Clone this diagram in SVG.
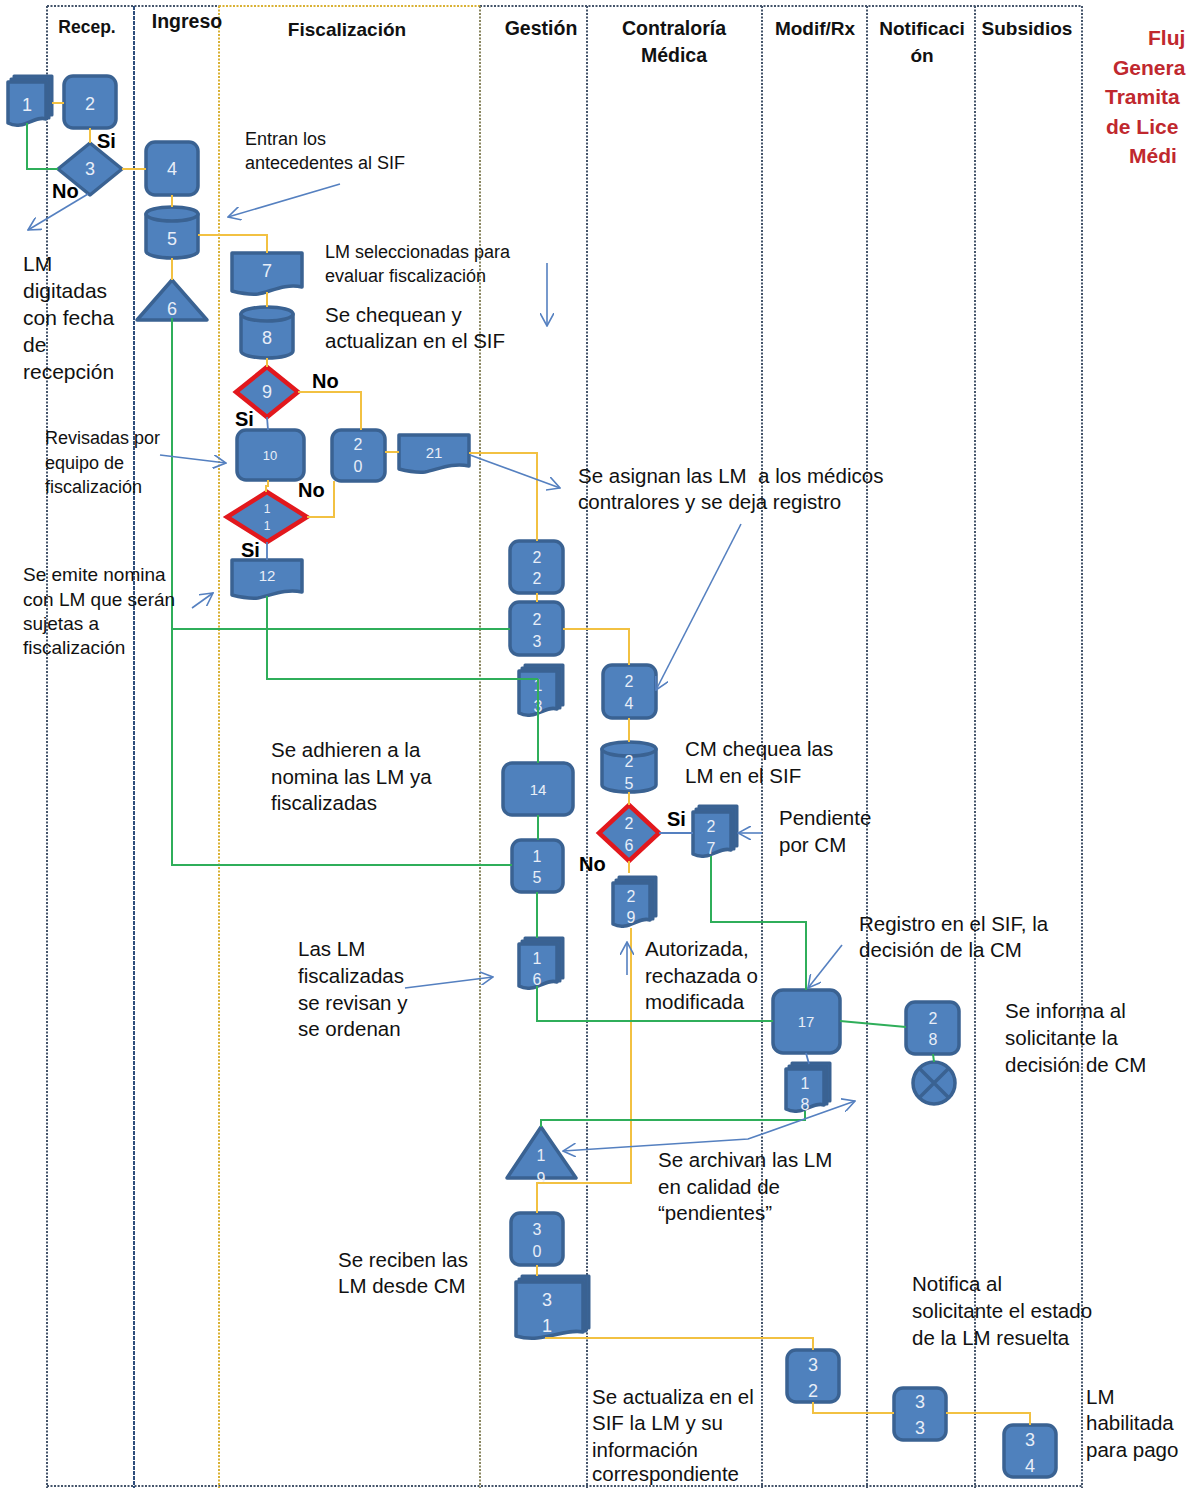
<svg xmlns="http://www.w3.org/2000/svg" width="1187" height="1488" viewBox="0 0 1187 1488">
<defs>
<style>
.n{fill:#4f81bd;stroke:#3a6292;stroke-width:3.5;stroke-linejoin:round}
.bk{fill:#3d6aa3;stroke:#3a6292;stroke-width:3;stroke-linejoin:round}
.rd{fill:#4f81bd;stroke:#e2181d;stroke-width:4.5;stroke-linejoin:miter}
.t{font-family:"Liberation Sans",Arial,sans-serif;fill:#e8eef8;text-anchor:middle}
.c{font-family:"Liberation Sans",Arial,sans-serif;fill:#111}
.h{font-family:"Liberation Sans",Arial,sans-serif;font-weight:bold;fill:#111;text-anchor:middle}
.lb{font-family:"Liberation Sans",Arial,sans-serif;font-weight:bold;fill:#000;font-size:20px}
.ti{font-family:"Liberation Sans",Arial,sans-serif;font-weight:bold;fill:#c0282e;font-size:21px}
.y{stroke:#f2c142;stroke-width:2;fill:none}
.g{stroke:#2fae5a;stroke-width:2;fill:none}
.b{stroke:#5580c0;stroke-width:1.8;fill:none}
.ar{stroke:#5580c0;stroke-width:1.6;fill:none;marker-end:url(#arr)}
.lb1{stroke:#44546a;stroke-width:2;stroke-dasharray:2 1.5;fill:none}
.lb2{stroke:#2d4d7c;stroke-width:2;stroke-dasharray:4 1;fill:none}
.ly{stroke:#d9b134;stroke-width:2;stroke-dasharray:2 1.5;fill:none}
.lo{stroke:#8a8660;stroke-width:2;stroke-dasharray:2 1.5;fill:none}
</style>
<marker id="arr" viewBox="0 0 14 14" refX="13" refY="7" markerWidth="14" markerHeight="14" markerUnits="userSpaceOnUse" orient="auto-start-reverse">
<path d="M0,0 L13,7 L0,14" fill="none" stroke="#5580c0" stroke-width="1.6"/>
</marker>
</defs>
<rect width="1187" height="1488" fill="#fff"/>

<g id="lanes">
<path class="lb1" d="M47,6 H219"/>
<path class="ly" d="M219,6 H480"/>
<path class="lb1" d="M480,6 H1082"/>
<path class="lb1" d="M47,1486 H1082"/>
<path class="lb1" d="M47,6 V1488"/>
<path class="lb2" d="M134,6 V1488"/>
<path class="ly" d="M219,6 V1488"/>
<path class="lo" d="M480,6 V1488"/>
<path class="lb1" d="M587,6 V1488"/>
<path class="lb1" d="M762,6 V1488"/>
<path class="lb1" d="M867,6 V1488"/>
<path class="lb1" d="M975,6 V1488"/>
<path class="lb1" d="M1082,6 V1488"/>
<text class="h" x="87" y="33" font-size="17.5">Recep.</text>
<text class="h" x="187" y="28" font-size="19.5">Ingreso</text>
<text class="h" x="347" y="36" font-size="19">Fiscalización</text>
<text class="h" x="541" y="35" font-size="19.5">Gestión</text>
<text class="h" x="674" y="35" font-size="19.5">Contraloría</text>
<text class="h" x="674" y="62" font-size="19.5">Médica</text>
<text class="h" x="815" y="35" font-size="19">Modif/Rx</text>
<text class="h" x="922" y="35" font-size="19">Notificaci</text>
<text class="h" x="922" y="62" font-size="19">ón</text>
<text class="h" x="1027" y="35" font-size="19">Subsidios</text>
</g>

<g id="title">
<text class="ti" x="1148" y="45">Fluj</text>
<text class="ti" x="1113" y="75">Genera</text>
<text class="ti" x="1105" y="104">Tramita</text>
<text class="ti" x="1106" y="134">de Lice</text>
<text class="ti" x="1129" y="163">Médi</text>
</g>

<g id="n1"><rect class="bk" x="14" y="76" width="38" height="39"/><rect class="bk" x="11" y="79" width="38" height="39"/><path class="n" d="M8,82 H46 V119 C34.6,115 23.2,131 8,123 Z"/><text class="t" x="27" y="111" font-size="18">1</text></g>
<g id="n2"><rect class="n" x="64" y="76" width="52" height="52" rx="9"/><text class="t" x="90" y="110" font-size="18">2</text></g>
<g id="n3"><polygon class="n" points="90,143 122,169 90,195 58,169"/><text class="t" x="90" y="175" font-size="18">3</text></g>
<g id="n4"><rect class="n" x="146" y="142" width="52" height="53" rx="9"/><text class="t" x="172" y="175" font-size="18">4</text></g>
<g id="n5"><path class="n" d="M146,214 V251 A26,7 0 0 0 198,251 V214 Z"/><ellipse class="n" cx="172" cy="214" rx="26" ry="7"/><text class="t" x="172" y="245" font-size="18">5</text></g>
<g id="n6"><polygon class="n" points="172,280 207,320 137,320"/><text class="t" x="172" y="315" font-size="18">6</text></g>
<g id="n7"><path class="n" d="M232,253 H302 V287 C285,283 270,292 258,294 C248,295 240,293 232,291 Z"/><text class="t" x="267" y="277" font-size="18">7</text></g>
<g id="n8"><path class="n" d="M241,314 V351 A26,7 0 0 0 293,351 V314 Z"/><ellipse class="n" cx="267" cy="314" rx="26" ry="7"/><text class="t" x="267" y="344" font-size="18">8</text></g>
<g id="n9"><polygon class="rd" points="267,367 298,392 267,417 236,392"/><text class="t" x="267" y="398" font-size="18">9</text></g>
<g id="n10"><rect class="n" x="237" y="430" width="67" height="50" rx="9"/><text class="t" x="270" y="460" font-size="13">10</text></g>
<g id="n11"><polygon class="rd" points="267,492 307,517 267,542 227,517"/><text class="t" x="267" y="513" font-size="12">1</text><text class="t" x="267" y="530" font-size="12">1</text></g>
<g id="n12"><path class="n" d="M232,560 H302 V592 C285,588 270,596 258,598 C248,599 240,597 232,595 Z"/><text class="t" x="267" y="581" font-size="15">12</text></g>
<g id="n20"><rect class="n" x="332" y="430" width="53" height="51" rx="9"/><text class="t" x="358" y="450" font-size="16">2</text><text class="t" x="358" y="472" font-size="16">0</text></g>
<g id="n21"><path class="n" d="M399,435 H469 V466 C452,462 437,470 425,472 C415,473 407,471 399,469 Z"/><text class="t" x="434" y="458" font-size="15">21</text></g>
<g id="n22"><rect class="n" x="510" y="541" width="53" height="52" rx="9"/><text class="t" x="537" y="563" font-size="16">2</text><text class="t" x="537" y="584" font-size="16">2</text></g>
<g id="n23"><rect class="n" x="510" y="602" width="53" height="53" rx="9"/><text class="t" x="537" y="625" font-size="16">2</text><text class="t" x="537" y="647" font-size="16">3</text></g>
<g id="n13"><rect class="bk" x="525" y="665" width="38" height="40"/><rect class="bk" x="522" y="668" width="38" height="40"/><path class="n" d="M519,671 H557 V709 C545.6,705 534.2,721 519,713 Z"/><text class="t" x="538" y="691" font-size="16">1</text><text class="t" x="538" y="712" font-size="16">3</text></g>
<g id="n24"><rect class="n" x="603" y="665" width="53" height="53" rx="9"/><text class="t" x="629" y="687" font-size="16">2</text><text class="t" x="629" y="709" font-size="16">4</text></g>
<g id="n14"><rect class="n" x="503" y="763" width="70" height="52" rx="9"/><text class="t" x="538" y="795" font-size="15">14</text></g>
<g id="n25"><path class="n" d="M602,749 V785 A27,7 0 0 0 656,785 V749 Z"/><ellipse class="n" cx="629" cy="749" rx="27" ry="7"/><text class="t" x="629" y="767" font-size="16">2</text><text class="t" x="629" y="789" font-size="16">5</text></g>
<g id="n26"><polygon class="rd" points="629,805 659,833 629,861 599,833"/><text class="t" x="629" y="829" font-size="16">2</text><text class="t" x="629" y="851" font-size="16">6</text></g>
<g id="n27"><rect class="bk" x="699" y="806" width="38" height="40"/><rect class="bk" x="696" y="809" width="38" height="40"/><path class="n" d="M693,812 H731 V850 C719.6,846 708.2,862 693,854 Z"/><text class="t" x="711" y="832" font-size="16">2</text><text class="t" x="711" y="854" font-size="16">7</text></g>
<g id="n15"><rect class="n" x="512" y="840" width="51" height="52" rx="9"/><text class="t" x="537" y="862" font-size="16">1</text><text class="t" x="537" y="883" font-size="16">5</text></g>
<g id="n29"><rect class="bk" x="619" y="877" width="37" height="39"/><rect class="bk" x="616" y="880" width="37" height="39"/><path class="n" d="M613,883 H650 V920 C638.9,916 627.8,932 613,924 Z"/><text class="t" x="631" y="902" font-size="16">2</text><text class="t" x="631" y="923" font-size="16">9</text></g>
<g id="n16"><rect class="bk" x="525" y="938" width="38" height="40"/><rect class="bk" x="522" y="941" width="38" height="40"/><path class="n" d="M519,944 H557 V982 C545.6,978 534.2,994 519,986 Z"/><text class="t" x="537" y="964" font-size="16">1</text><text class="t" x="537" y="985" font-size="16">6</text></g>
<g id="n17"><rect class="n" x="773" y="990" width="67" height="63" rx="10"/><text class="t" x="806" y="1027" font-size="15">17</text></g>
<g id="n28"><rect class="n" x="906" y="1002" width="53" height="52" rx="9"/><text class="t" x="933" y="1024" font-size="16">2</text><text class="t" x="933" y="1045" font-size="16">8</text></g>
<g id="nX"><circle class="n" cx="934" cy="1083" r="21"/><path d="M919.5,1068.5 L948.5,1097.5 M948.5,1068.5 L919.5,1097.5" stroke="#3a6292" stroke-width="3.5"/></g>
<g id="n18"><rect class="bk" x="792" y="1063" width="38" height="38"/><rect class="bk" x="789" y="1066" width="38" height="38"/><path class="n" d="M786,1069 H824 V1105 C812.6,1101 801.2,1117 786,1109 Z"/><text class="t" x="805" y="1089" font-size="16">1</text><text class="t" x="805" y="1110" font-size="16">8</text></g>
<g id="n19"><polygon class="n" points="541,1127 576,1178 507,1178"/><text class="t" x="541" y="1161" font-size="16">1</text><text class="t" x="541" y="1184" font-size="16">9</text></g>
<g id="n30"><rect class="n" x="511" y="1213" width="52" height="52" rx="9"/><text class="t" x="537" y="1235" font-size="16">3</text><text class="t" x="537" y="1257" font-size="16">0</text></g>
<g id="n31"><rect class="bk" x="522" y="1276" width="67" height="52"/><rect class="bk" x="519" y="1279" width="67" height="52"/><path class="n" d="M516,1282 H583 V1332 C563,1328 543,1344 516,1336 Z"/><text class="t" x="547" y="1306" font-size="18">3</text><text class="t" x="547" y="1332" font-size="18">1</text></g>
<g id="n32"><rect class="n" x="787" y="1350" width="52" height="52" rx="9"/><text class="t" x="813" y="1371" font-size="18">3</text><text class="t" x="813" y="1397" font-size="18">2</text></g>
<g id="n33"><rect class="n" x="894" y="1388" width="52" height="52" rx="9"/><text class="t" x="920" y="1408" font-size="18">3</text><text class="t" x="920" y="1434" font-size="18">3</text></g>
<g id="n34"><rect class="n" x="1004" y="1425" width="52" height="52" rx="9"/><text class="t" x="1030" y="1446" font-size="18">3</text><text class="t" x="1030" y="1472" font-size="18">4</text></g>

<g id="connectors">
<path class="y" d="M52,103 H64"/>
<path class="y" d="M90,128 V143"/>
<path class="y" d="M122,169 H146"/>
<path class="y" d="M172,195 V207"/>
<path class="y" d="M198,235 H267 V253"/>
<path class="y" d="M172,258 V280"/>
<path class="y" d="M267,292 V307"/>
<path class="y" d="M267,358 V367"/>
<path class="y" d="M298,392 H361 V430"/>
<path class="y" d="M268,480 V486 H266 V492"/>
<path class="y" d="M307,517 H334 V481"/>
<path class="y" d="M385,452 H399"/>
<path class="y" d="M469,453 H537 V541"/>
<path class="y" d="M537,593 V602"/>
<path class="y" d="M563,629 H629 V665"/>
<path class="y" d="M629,718 V742"/>
<path class="y" d="M629,792 V805"/>
<path class="y" d="M629,861 V873"/>
<path class="y" d="M631,928 V1183 H537 V1213"/>
<path class="y" d="M537,1265 V1276"/>
<path class="y" d="M545,1338 H813 V1350"/>
<path class="y" d="M813,1402 V1413 H894"/>
<path class="y" d="M946,1413 H1030 V1425"/>
<path class="g" d="M58,169 H27 V123"/>
<path class="g" d="M172,318 V865 H512"/>
<path class="g" d="M172,629 H510"/>
<path class="g" d="M267,596 V679 H538"/>
<path class="g" d="M538,679 V763"/>
<path class="g" d="M538,815 V840"/>
<path class="g" d="M537,892 V938"/>
<path class="g" d="M537,986 V1021 H773"/>
<path class="g" d="M711,856 V922 H806 V990"/>
<path class="g" d="M840,1021 L906,1027"/>
<path class="g" d="M933,1054 L934,1062"/>
<path class="g" d="M805,1111 V1120 H541 V1127"/>
<path class="b" d="M267,417 L268,430"/>
<path class="b" d="M267,542 V560"/>
<path class="b" d="M659,833 H693"/>
<path class="b" d="M806,1053 L809,1064"/>
<path class="ar" d="M88,194 L28,230"/>
<path class="ar" d="M340,184 L228,217"/>
<path class="ar" d="M547,263 V326"/>
<path class="ar" d="M160,455 L226,463"/>
<path class="ar" d="M192,608 L213,593"/>
<path class="ar" d="M470,455 L560,488"/>
<path class="ar" d="M741,524 L656,690"/>
<path class="ar" d="M762,833 L738,833"/>
<path class="ar" d="M627,975 V942"/>
<path class="ar" d="M842,945 L808,988"/>
<path class="ar" d="M405,988 L493,977"/>
<path class="ar" d="M563,1151 L748,1139 L855,1101" marker-start="url(#arr)"/>
</g>

<g id="branch-labels">
<text class="lb" x="97" y="148">Si</text>
<text class="lb" x="52" y="198">No</text>
<text class="lb" x="312" y="388">No</text>
<text class="lb" x="235" y="426">Si</text>
<text class="lb" x="298" y="497">No</text>
<text class="lb" x="241" y="557">Si</text>
<text class="lb" x="667" y="826">Si</text>
<text class="lb" x="579" y="871">No</text>
</g>

<g id="notes">
<text class="c" font-size="18" x="245" y="145">Entran los</text>
<text class="c" font-size="18" x="245" y="169">antecedentes al SIF</text>
<text class="c" font-size="18" x="325" y="258">LM seleccionadas para</text>
<text class="c" font-size="18" x="325" y="282">evaluar fiscalización</text>
<text class="c" font-size="20.5" x="325" y="322">Se chequean y</text>
<text class="c" font-size="20.5" x="325" y="348">actualizan en el SIF</text>
<text class="c" font-size="21" x="23" y="271">LM</text>
<text class="c" font-size="21" x="23" y="298">digitadas</text>
<text class="c" font-size="21" x="23" y="325">con fecha</text>
<text class="c" font-size="21" x="23" y="352">de</text>
<text class="c" font-size="21" x="23" y="379">recepción</text>
<text class="c" font-size="18" x="45" y="444">Revisadas por</text>
<text class="c" font-size="18" x="45" y="469">equipo de</text>
<text class="c" font-size="18" x="45" y="493">fiscalización</text>
<text class="c" font-size="19" x="23" y="581">Se emite nomina</text>
<text class="c" font-size="19" x="23" y="606">con LM que serán</text>
<text class="c" font-size="19" x="23" y="630">sujetas a</text>
<text class="c" font-size="19" x="23" y="654">fiscalización</text>
<text class="c" font-size="20.5" x="578" y="483" xml:space="preserve">Se asignan las LM  a los médicos</text>
<text class="c" font-size="20.5" x="578" y="509">contralores y se deja registro</text>
<text class="c" font-size="20.5" x="271" y="757">Se adhieren a la</text>
<text class="c" font-size="20.5" x="271" y="784">nomina las LM ya</text>
<text class="c" font-size="20.5" x="271" y="810">fiscalizadas</text>
<text class="c" font-size="20.5" x="685" y="756">CM chequea las</text>
<text class="c" font-size="20.5" x="685" y="783">LM en el SIF</text>
<text class="c" font-size="20.5" x="779" y="825">Pendiente</text>
<text class="c" font-size="20.5" x="779" y="852">por CM</text>
<text class="c" font-size="20.5" x="859" y="931">Registro en el SIF, la</text>
<text class="c" font-size="20.5" x="859" y="957">decisión de la CM</text>
<text class="c" font-size="20.5" x="298" y="956">Las LM</text>
<text class="c" font-size="20.5" x="298" y="983">fiscalizadas</text>
<text class="c" font-size="20.5" x="298" y="1010">se revisan y</text>
<text class="c" font-size="20.5" x="298" y="1036">se ordenan</text>
<text class="c" font-size="20.5" x="645" y="956">Autorizada,</text>
<text class="c" font-size="20.5" x="645" y="983">rechazada o</text>
<text class="c" font-size="20.5" x="645" y="1009">modificada</text>
<text class="c" font-size="20.5" x="1005" y="1018">Se informa al</text>
<text class="c" font-size="20.5" x="1005" y="1045">solicitante la</text>
<text class="c" font-size="20.5" x="1005" y="1072">decisión de CM</text>
<text class="c" font-size="20.5" x="658" y="1167">Se archivan las LM</text>
<text class="c" font-size="20.5" x="658" y="1194">en calidad de</text>
<text class="c" font-size="20.5" x="658" y="1220">“pendientes”</text>
<text class="c" font-size="20.5" x="338" y="1267">Se reciben las</text>
<text class="c" font-size="20.5" x="338" y="1293">LM desde CM</text>
<text class="c" font-size="20.5" x="912" y="1291">Notifica al</text>
<text class="c" font-size="20.5" x="912" y="1318">solicitante el estado</text>
<text class="c" font-size="20.5" x="912" y="1345">de la LM resuelta</text>
<text class="c" font-size="20.5" x="592" y="1404">Se actualiza en el</text>
<text class="c" font-size="20.5" x="592" y="1430">SIF la LM y su</text>
<text class="c" font-size="20.5" x="592" y="1457">información</text>
<text class="c" font-size="20.5" x="592" y="1481">correspondiente</text>
<text class="c" font-size="20.5" x="1086" y="1404">LM</text>
<text class="c" font-size="20.5" x="1086" y="1430">habilitada</text>
<text class="c" font-size="20.5" x="1086" y="1457">para pago</text>
</g>
</svg>
